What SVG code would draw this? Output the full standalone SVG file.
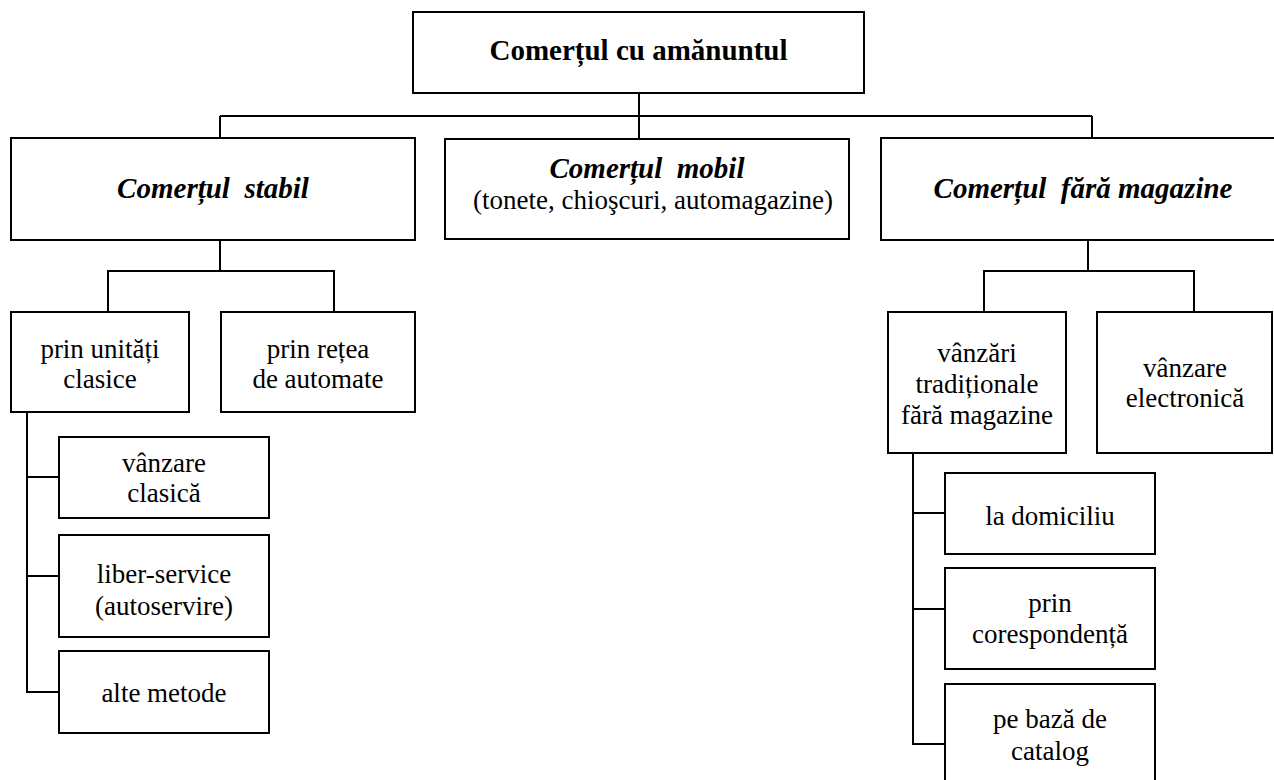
<svg xmlns="http://www.w3.org/2000/svg" width="1274" height="780" viewBox="0 0 1274 780">
<style>
rect{fill:#fff;stroke:#000;stroke-width:2}
.c line,.c path{stroke:#000;stroke-width:2;fill:none}
text{font-family:'Liberation Serif','DejaVu Serif',serif;text-anchor:middle;fill:#000}
.t{font-weight:bold;font-size:29px}
.h{font-weight:bold;font-style:italic;font-size:29px}
.r{font-size:27px}
</style>
<rect width="1274" height="780" style="fill:#fff;stroke:none"/>
<g class="c" id="connectors">
<line x1="639" y1="93" x2="639" y2="138"/>
<line x1="220" y1="116" x2="1092" y2="116"/>
<line x1="220" y1="116" x2="220" y2="138"/>
<line x1="1092" y1="116" x2="1092" y2="138"/>
<path d="M220 240V271M108 312V271H334V312"/>
<path d="M1088 240V271M984 312V271H1194V312"/>
<path d="M27 412V692H59M27 477H59M27 576H59"/>
<path d="M913 453V744H945M913 513H945M913 609H945"/>
</g>
<g id="root"><rect x="413" y="12" width="451" height="81"/><text class="t" x="638.5" y="60">Comerțul cu amănuntul</text></g>
<g id="stabil"><rect x="11" y="138" width="404" height="102"/><text class="h" x="213" y="198" xml:space="preserve">Comerțul  stabil</text></g>
<g id="mobil"><rect x="445" y="139" width="404" height="100"/><text class="h" x="647" y="178" xml:space="preserve">Comerțul  mobil</text><text class="r" x="653" y="209">(tonete, chioşcuri, automagazine)</text></g>
<g id="fara"><rect x="881" y="138" width="410" height="102"/><text class="h" x="1083" y="198" xml:space="preserve">Comerțul  fără magazine</text></g>
<g id="unitati"><rect x="11" y="312" width="178" height="100"/><text class="r" x="100" y="358">prin unități</text><text class="r" x="100" y="388">clasice</text></g>
<g id="retea"><rect x="221" y="312" width="194" height="100"/><text class="r" x="318" y="358">prin rețea</text><text class="r" x="318" y="388">de automate</text></g>
<g id="clasica"><rect x="59" y="437" width="210" height="81"/><text class="r" x="164" y="472">vânzare</text><text class="r" x="164" y="502">clasică</text></g>
<g id="liber"><rect x="59" y="535" width="210" height="102"/><text class="r" x="164" y="583">liber-service</text><text class="r" x="164" y="615">(autoservire)</text></g>
<g id="alte"><rect x="59" y="651" width="210" height="82"/><text class="r" x="164" y="702">alte metode</text></g>
<g id="traditionale"><rect x="888" y="312" width="178" height="141"/><text class="r" x="977" y="362">vânzări</text><text class="r" x="977" y="393">tradiționale</text><text class="r" x="977" y="424">fără magazine</text></g>
<g id="electronica"><rect x="1097" y="312" width="175" height="141"/><text class="r" x="1185" y="377">vânzare</text><text class="r" x="1185" y="407">electronică</text></g>
<g id="domiciliu"><rect x="945" y="473" width="210" height="81"/><text class="r" x="1050" y="525">la domiciliu</text></g>
<g id="corespondenta"><rect x="945" y="568" width="210" height="101"/><text class="r" x="1050" y="612">prin</text><text class="r" x="1050" y="643">corespondență</text></g>
<g id="catalog"><rect x="945" y="684" width="210" height="110"/><text class="r" x="1050" y="728">pe bază de</text><text class="r" x="1050" y="760">catalog</text></g>
</svg>
